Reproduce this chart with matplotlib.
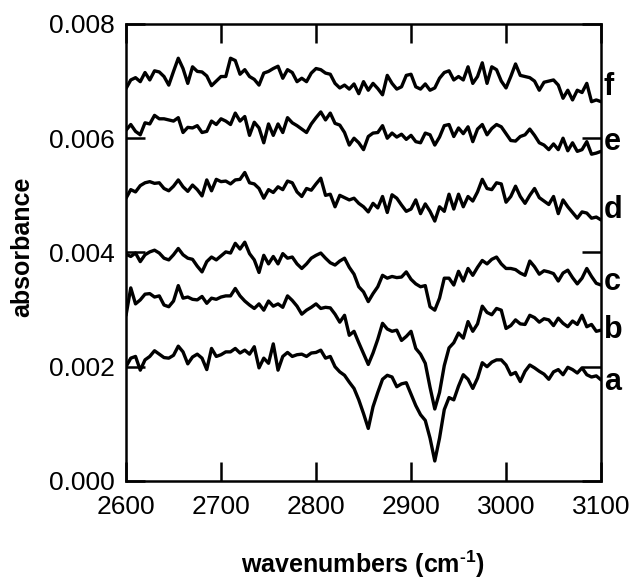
import numpy as np
import matplotlib
matplotlib.use("Agg")
import matplotlib.pyplot as plt
from matplotlib.ticker import FixedLocator, FormatStrFormatter
from matplotlib.transforms import blended_transform_factory

plt.rcParams['font.family'] = ['Liberation Sans', 'DejaVu Sans']
plt.rcParams['mathtext.fontset'] = 'custom'
plt.rcParams['mathtext.rm'] = 'Liberation Sans:bold'
plt.rcParams['mathtext.bf'] = 'Liberation Sans:bold'
plt.rcParams['mathtext.default'] = 'bf'

# wavenumber grid (cm^-1), 5 cm^-1 spacing
wavenumber = np.arange(2600, 3101, 5)

# absorbance traces in units of 1e-3
abs_f = [6.87, 7.02, 7.06, 6.99, 7.15, 7.02, 7.18, 7.16, 7.08, 6.93,
         7.17, 7.40, 7.22, 6.96, 7.25, 7.17, 7.16, 7.09, 6.92, 7.00,
         7.08, 7.08, 7.40, 7.36, 7.12, 7.20, 7.08, 7.03, 6.93, 7.14,
         7.17, 7.22, 7.26, 7.05, 7.20, 7.15, 6.99, 7.05, 6.99, 7.14,
         7.22, 7.20, 7.14, 7.12, 6.96, 6.88, 6.93, 6.86, 6.95, 6.78,
         6.99, 6.84, 6.96, 6.87, 6.76, 7.10, 6.96, 6.86, 6.90, 7.10,
         7.12, 6.90, 6.86, 6.95, 6.84, 6.88, 7.05, 7.15, 7.18, 7.02,
         7.08, 7.02, 7.25, 6.96, 7.08, 7.32, 6.96, 7.25, 7.20, 7.00,
         6.88, 7.08, 7.30, 7.10, 7.08, 7.06, 7.00, 6.84, 6.98, 7.00,
         7.02, 6.93, 6.70, 6.84, 6.67, 6.84, 6.80, 6.96, 6.64, 6.67,
         6.64]

abs_e = [6.14, 6.24, 6.12, 6.06, 6.27, 6.25, 6.40, 6.34, 6.34, 6.32,
         6.30, 6.36, 6.10, 6.19, 6.18, 6.22, 6.10, 6.12, 6.30, 6.24,
         6.34, 6.30, 6.24, 6.44, 6.30, 6.38, 6.05, 6.28, 6.18, 5.92,
         6.25, 6.05, 6.25, 6.10, 6.36, 6.27, 6.22, 6.16, 6.10, 6.25,
         6.36, 6.46, 6.32, 6.44, 6.26, 6.23, 6.10, 5.88, 6.00, 5.92,
         5.80, 6.03, 6.09, 6.10, 6.22, 6.00, 6.09, 6.02, 6.07, 5.98,
         6.05, 5.94, 5.92, 6.09, 6.06, 5.88, 6.02, 6.22, 6.24, 6.03,
         6.18, 6.08, 6.20, 5.94, 6.16, 6.24, 6.06, 6.17, 6.24, 6.20,
         6.08, 5.96, 5.95, 6.03, 6.06, 6.16, 6.05, 5.92, 5.88, 5.80,
         5.90, 5.80, 6.00, 5.78, 5.92, 5.77, 5.80, 5.94, 5.72, 5.74,
         5.77]

abs_d = [4.95, 5.10, 5.06, 5.17, 5.22, 5.24, 5.21, 5.22, 5.12, 5.08,
         5.16, 5.27, 5.15, 5.07, 5.18, 5.10, 4.99, 5.27, 5.08, 5.28,
         5.24, 5.25, 5.20, 5.27, 5.28, 5.40, 5.22, 5.20, 5.12, 4.95,
         5.10, 5.05, 5.15, 5.10, 5.25, 5.22, 5.06, 4.98, 5.12, 5.09,
         5.20, 5.30, 5.00, 5.02, 4.80, 5.00, 4.96, 4.92, 4.95, 4.86,
         4.80, 4.71, 4.86, 4.78, 4.98, 4.70, 5.01, 4.95, 4.83, 4.72,
         4.76, 4.92, 4.68, 4.85, 4.72, 4.55, 4.80, 4.72, 5.02, 4.76,
         5.02, 4.80, 4.98, 4.90, 5.06, 5.28, 5.12, 5.10, 5.22, 5.20,
         4.88, 4.98, 5.16, 4.98, 4.86, 5.00, 5.12, 4.96, 4.90, 4.84,
         4.98, 4.68, 4.92, 4.80, 4.70, 4.60, 4.71, 4.69, 4.60, 4.62,
         4.57]

abs_c = [3.97, 3.93, 3.99, 3.84, 3.96, 4.01, 4.04, 3.99, 3.90, 3.87,
         3.96, 4.07, 3.96, 3.90, 3.88, 3.76, 3.66, 3.84, 3.92, 3.87,
         3.94, 4.01, 3.99, 4.16, 4.06, 4.18, 3.98, 3.87, 3.65, 3.95,
         3.80, 3.93, 3.80, 3.98, 3.90, 3.92, 3.80, 3.72, 3.80, 3.90,
         3.95, 3.99, 3.90, 3.82, 3.78, 3.85, 3.90, 3.74, 3.62, 3.40,
         3.31, 3.14, 3.28, 3.40, 3.60, 3.55, 3.58, 3.56, 3.57, 3.66,
         3.53, 3.45, 3.40, 3.42, 3.05, 2.99, 3.20, 3.55, 3.55, 3.43,
         3.67, 3.50, 3.72, 3.60, 3.74, 3.86, 3.80, 3.88, 3.92, 3.80,
         3.72, 3.72, 3.70, 3.64, 3.60, 3.85, 3.75, 3.62, 3.68, 3.66,
         3.63, 3.50, 3.64, 3.69, 3.56, 3.45, 3.55, 3.72, 3.58, 3.46,
         3.43]

abs_b = [2.90, 3.38, 3.10, 3.17, 3.27, 3.28, 3.22, 3.24, 3.08, 3.05,
         3.15, 3.42, 3.20, 3.22, 3.18, 3.17, 3.23, 3.11, 3.20, 3.18,
         3.22, 3.24, 3.24, 3.37, 3.24, 3.15, 3.08, 3.02, 3.10, 2.99,
         3.15, 3.06, 3.10, 3.04, 3.24, 3.16, 3.06, 2.92, 2.99, 3.04,
         3.10, 3.02, 3.04, 3.03, 2.92, 2.78, 2.90, 2.55, 2.62, 2.42,
         2.23, 2.04, 2.24, 2.48, 2.76, 2.66, 2.62, 2.64, 2.46, 2.53,
         2.62, 2.32, 2.22, 2.06, 1.64, 1.26, 1.55, 2.02, 2.33, 2.42,
         2.59, 2.50, 2.79, 2.62, 2.75, 3.06, 2.95, 2.91, 3.02, 2.99,
         2.67, 2.72, 2.82, 2.75, 2.74, 2.90, 2.86, 2.78, 2.84, 2.82,
         2.72, 2.85, 2.76, 2.70, 2.80, 2.74, 2.90, 2.70, 2.74, 2.62,
         2.64]

abs_a = [2.00, 2.15, 2.18, 1.94, 2.12, 2.18, 2.28, 2.22, 2.16, 2.15,
         2.20, 2.36, 2.26, 2.05, 2.17, 2.22, 2.15, 1.95, 2.32, 2.18,
         2.21, 2.26, 2.26, 2.32, 2.24, 2.29, 2.22, 2.35, 1.98, 2.15,
         2.06, 2.40, 1.94, 2.18, 2.25, 2.18, 2.21, 2.22, 2.18, 2.24,
         2.25, 2.29, 2.15, 2.18, 2.00, 1.91, 1.85, 1.73, 1.62, 1.42,
         1.18, 0.92, 1.30, 1.55, 1.78, 1.85, 1.82, 1.65, 1.70, 1.72,
         1.52, 1.32, 1.16, 1.06, 0.75, 0.35, 0.75, 1.25, 1.46, 1.42,
         1.66, 1.86, 1.78, 1.62, 1.80, 2.07, 2.00, 2.08, 2.12, 2.12,
         2.03, 1.86, 1.90, 1.74, 1.92, 2.03, 1.98, 1.92, 1.87, 1.78,
         1.91, 1.95, 1.86, 1.99, 1.95, 1.89, 1.98, 1.86, 1.82, 1.84,
         1.77]

traces = [abs_a, abs_b, abs_c, abs_d, abs_e, abs_f]
trace_names = ['a', 'b', 'c', 'd', 'e', 'f']
name_y = [0.00173, 0.00264, 0.00348, 0.00474, 0.00593, 0.00690]

xticks = [2600, 2700, 2800, 2900, 3000, 3100]
yticks = [0.000, 0.002, 0.004, 0.006, 0.008]

fig = plt.figure(figsize=(6.32, 5.79), dpi=100)
ax = fig.add_axes([0.1994, 0.1693, 0.7516, 0.7893])

for vals in traces:
    ax.plot(wavenumber, np.asarray(vals) * 1e-3, color='black', lw=2.4,
            solid_joinstyle='round', solid_capstyle='round')

ax.set_xlim(2600, 3100)
ax.set_ylim(0, 0.008)
ax.xaxis.set_major_locator(FixedLocator(xticks))
ax.yaxis.set_major_locator(FixedLocator(yticks))
ax.yaxis.set_major_formatter(FormatStrFormatter('%.3f'))

ax.tick_params(axis='both', which='major', direction='in', length=14,
               width=1.8, top=True, right=True, labelsize=19, color='black')
ax.tick_params(axis='x', pad=10)
ax.tick_params(axis='y', pad=8)
for sp in ax.spines.values():
    sp.set_linewidth(1.8)

trans = blended_transform_factory(ax.transAxes, ax.transData)
for name, y in zip(trace_names, name_y):
    ax.text(1.006, y, name, transform=trans, ha='left', va='center',
            fontsize=22, fontweight='bold')

fig.text(22 / 632, 1 - 247 / 579, 'absorbance', rotation=90, ha='center',
         va='center', fontsize=18, fontweight='bold')
fig.text(363 / 632, 1 - 564 / 579, r'wavenumbers (cm$^{\text{-1}}$)',
         ha='center', va='center', fontsize=18, fontweight='bold')

fig.savefig('out.png', dpi=100)
